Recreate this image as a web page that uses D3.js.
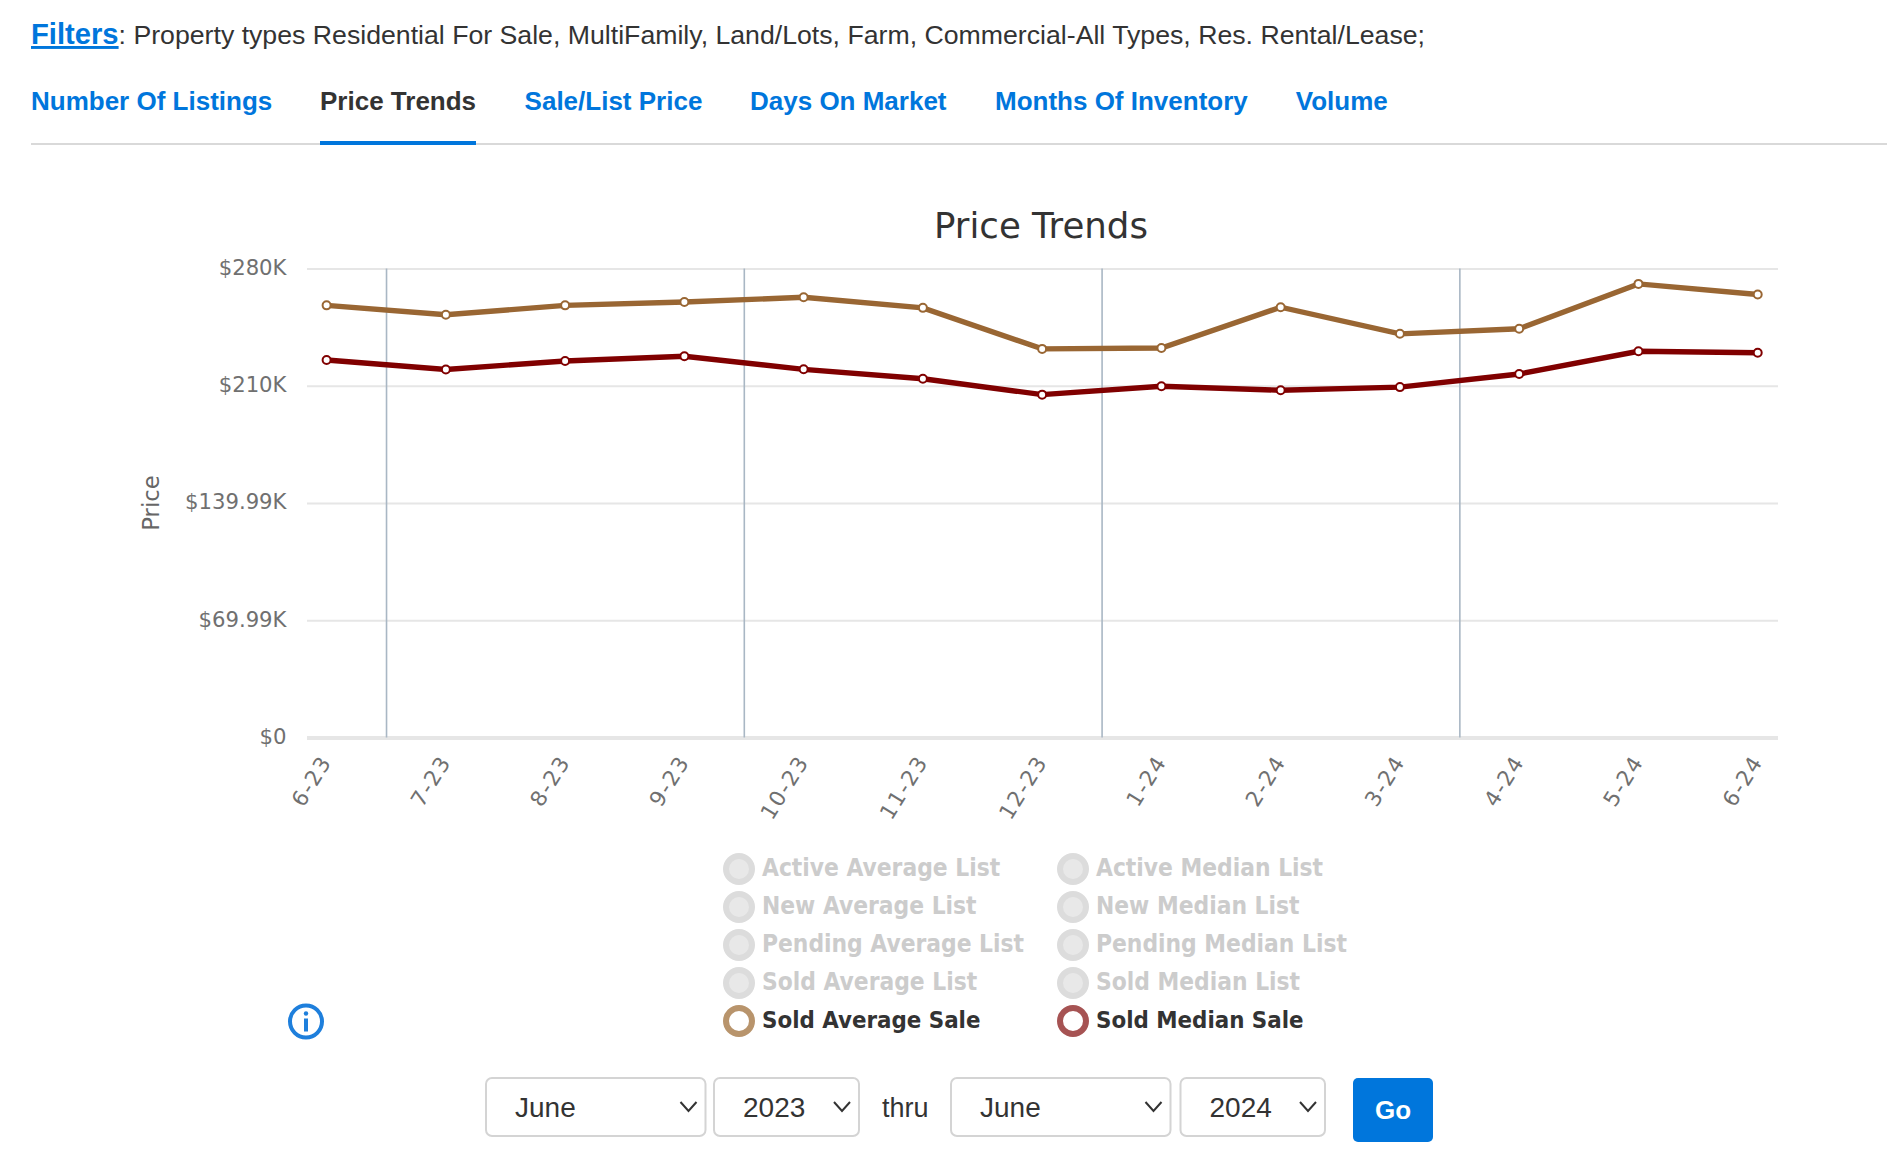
<!DOCTYPE html>
<html>
<head>
<meta charset="utf-8">
<title>Price Trends</title>
<script src="https://cdn.jsdelivr.net/npm/d3@7"></script>
<style>
  html, body { margin: 0; padding: 0; background: #fff; }
  svg { display: block; }
  .ui { font-family: "Liberation Sans", Arial, sans-serif; }
  .chart { font-family: "DejaVu Sans", sans-serif; }
</style>
</head>
<body>
<svg id="page" width="1904" height="1166"></svg>
<script>
const months = ["6-23", "7-23", "8-23", "9-23", "10-23", "11-23", "12-23", "1-24", "2-24", "3-24", "4-24", "5-24", "6-24"];
const soldAverageSale = [258000, 252400, 258000, 260000, 262800, 256500, 232000, 232500, 256900, 241000, 244000, 270800, 264500];
const soldMedianSale = [225400, 219700, 224800, 227600, 219800, 214200, 204700, 209700, 207300, 209200, 217000, 230600, 229700];
const yTicks = [0, 69990, 139990, 210000, 280000];
const yTickLabels = ["$0", "$69.99K", "$139.99K", "$210K", "$280K"];
// months after which a quarter line is drawn
const quarterEnds = ["6-23", "9-23", "12-23", "3-24"];

const tabs = ["Number Of Listings", "Price Trends", "Sale/List Price", "Days On Market", "Months Of Inventory", "Volume"];
const tabX = [31, 320, 524.6, 750, 995, 1295.8];
const legendAverage = ["Active Average List", "New Average List", "Pending Average List", "Sold Average List", "Sold Average Sale"];
const legendMedian = ["Active Median List", "New Median List", "Pending Median List", "Sold Median List", "Sold Median Sale"];

const blue = "#0076dc";
const svg = d3.select("#page");

// header
const filters = svg.append("text").attr("class", "ui").attr("x", 31).attr("y", 44).attr("font-size", 26.68).attr("fill", "#333");
filters.append("tspan").attr("fill", blue).attr("font-weight", "bold").attr("font-size", 29.2).attr("text-decoration", "underline").text("Filters");
filters.append("tspan").text(": Property types Residential For Sale, MultiFamily, Land/Lots, Farm, Commercial-All Types, Res. Rental/Lease;");

svg.append("line").attr("x1", 31).attr("x2", 1887).attr("y1", 144).attr("y2", 144).attr("stroke", "#d9d9d9").attr("stroke-width", 2);

svg.selectAll(".tab")
  .data(tabs)
  .enter()
  .append("text")
  .attr("class", "tab ui")
  .attr("x", (d, i) => tabX[i])
  .attr("y", 110)
  .attr("font-size", 26)
  .attr("font-weight", "bold")
  .attr("fill", (d) => (d === "Price Trends" ? "#333" : blue))
  .text((d) => d);

svg.append("rect").attr("x", 320).attr("y", 141).attr("width", 156).attr("height", 4).attr("fill", blue);

// chart
const plot = { left: 307, right: 1778, top: 268.5, bottom: 737.5 };

const x = d3.scalePoint().domain(months).range([326.6, 1757.7]);
const y = d3.scaleLinear().domain([0, 280000]).range([plot.bottom, plot.top]);

const chart = svg.append("g").attr("class", "chart");

chart.append("text")
  .attr("x", 1041)
  .attr("y", 238)
  .attr("text-anchor", "middle")
  .attr("font-size", 35.6)
  .attr("fill", "#333")
  .text("Price Trends");

chart.append("text")
  .attr("transform", "translate(159,503) rotate(-90)")
  .attr("text-anchor", "middle")
  .attr("font-size", 22.8)
  .attr("fill", "#666")
  .text("Price");

const yAxis = chart.append("g")
  .attr("transform", `translate(${plot.left},0)`)
  .call(d3.axisLeft(y)
    .tickValues(yTicks)
    .tickFormat((d, i) => yTickLabels[i])
    .tickSize(-(plot.right - plot.left))
    .tickPadding(20.5));
yAxis.select(".domain").remove();
yAxis.selectAll("line").attr("stroke", "#e6e6e6").attr("stroke-width", (d) => (d === 0 ? 4 : 2));
yAxis.selectAll("text")
  .attr("font-size", 21.2)
  .attr("font-family", "DejaVu Sans")
  .attr("fill", "#707070")
  .attr("dy", "0.28em");

chart.selectAll(".quarter")
  .data(quarterEnds)
  .enter()
  .append("line")
  .attr("class", "quarter")
  .attr("x1", (d) => x(d) + x.step() / 2 + 0.3)
  .attr("x2", (d) => x(d) + x.step() / 2 + 0.3)
  .attr("y1", y(280000))
  .attr("y2", y(0))
  .attr("stroke", "#a9b7c4")
  .attr("stroke-width", 1.6);

const xAxis = chart.append("g")
  .attr("transform", `translate(0,${plot.bottom})`)
  .call(d3.axisBottom(x).tickSize(0).tickPadding(20));
xAxis.select(".domain").remove();
xAxis.selectAll("text")
  .attr("font-size", 21.5)
  .attr("font-family", "DejaVu Sans")
  .attr("letter-spacing", 1.6)
  .attr("fill", "#707070")
  .attr("text-anchor", "end")
  .attr("dy", "0.35em")
  .attr("transform", "translate(-1,0) rotate(-58 0 20)");

const line = d3.line().x((d, i) => x(months[i])).y((d) => y(d));

[
  { values: soldAverageSale, color: "#996633" },
  { values: soldMedianSale, color: "#800000" },
].forEach((s) => {
  chart.append("path")
    .attr("d", line(s.values))
    .attr("fill", "none")
    .attr("stroke", s.color)
    .attr("stroke-width", 5.4);
  chart.selectAll(null)
    .data(s.values)
    .enter()
    .append("circle")
    .attr("cx", (d, i) => x(months[i]))
    .attr("cy", (d) => y(d))
    .attr("r", 4)
    .attr("fill", "#fff")
    .attr("stroke", s.color)
    .attr("stroke-width", 2);
});

// legend
const legendRow = d3.scalePoint().domain(d3.range(5)).range([869, 1021]);
const legendColumns = [
  { names: legendAverage, x: 739, on: "#b8946c" },
  { names: legendMedian, x: 1073, on: "#a65353" },
];
legendColumns.forEach((col) => {
  col.names.forEach((name, i) => {
    const active = i === 4;
    chart.append("circle")
      .attr("cx", col.x)
      .attr("cy", legendRow(i))
      .attr("r", 13)
      .attr("fill", active ? "#fff" : "#e8e8e8")
      .attr("stroke", active ? col.on : "#dcdcdc")
      .attr("stroke-width", 6);
    chart.append("text")
      .attr("x", col.x + 23)
      .attr("y", legendRow(i) + 6.5)
      .attr("font-size", active ? 23.8 : 24.3)
      .attr("font-weight", "bold")
      .style("font-stretch", "condensed")
      .attr("fill", active ? "#333" : "#cccccc")
      .text(name);
  });
});

// info icon
const info = svg.append("g").attr("transform", "translate(306,1021.5)");
info.append("circle").attr("r", 16).attr("fill", "#fff").attr("stroke", "#1e7fdc").attr("stroke-width", 4);
info.append("circle").attr("cy", -8).attr("r", 2.2).attr("fill", "#1e7fdc");
info.append("rect").attr("x", -2).attr("y", -3).attr("width", 4).attr("height", 13).attr("fill", "#1e7fdc");

// date selects
const selects = [
  { text: "June", x: 486, w: 219.5 },
  { text: "2023", x: 714, w: 145 },
  { text: "June", x: 951, w: 219.5 },
  { text: "2024", x: 1180.5, w: 144.5 },
];
const select = svg.selectAll(".select")
  .data(selects)
  .enter()
  .append("g")
  .attr("class", "select ui")
  .attr("transform", (d) => `translate(${d.x},1078)`);
select.append("rect")
  .attr("width", (d) => d.w)
  .attr("height", 58)
  .attr("rx", 6)
  .attr("fill", "#fff")
  .attr("stroke", "#d4d4d4")
  .attr("stroke-width", 2);
select.append("text")
  .attr("x", 29)
  .attr("y", 39)
  .attr("font-size", 28)
  .attr("fill", "#333")
  .text((d) => d.text);
select.append("path")
  .attr("d", (d) => `M${d.w - 25},24 l8,9 l8,-9`)
  .attr("fill", "none")
  .attr("stroke", "#333")
  .attr("stroke-width", 2);

svg.append("text").attr("class", "ui").attr("x", 882).attr("y", 1117).attr("font-size", 27).attr("fill", "#333").text("thru");

svg.append("rect").attr("x", 1353).attr("y", 1078).attr("width", 80).attr("height", 64).attr("rx", 5).attr("fill", blue);
svg.append("text").attr("class", "ui").attr("x", 1393).attr("y", 1119).attr("text-anchor", "middle")
  .attr("font-size", 26).attr("font-weight", "bold").attr("fill", "#fff").text("Go");
</script>
</body>
</html>
